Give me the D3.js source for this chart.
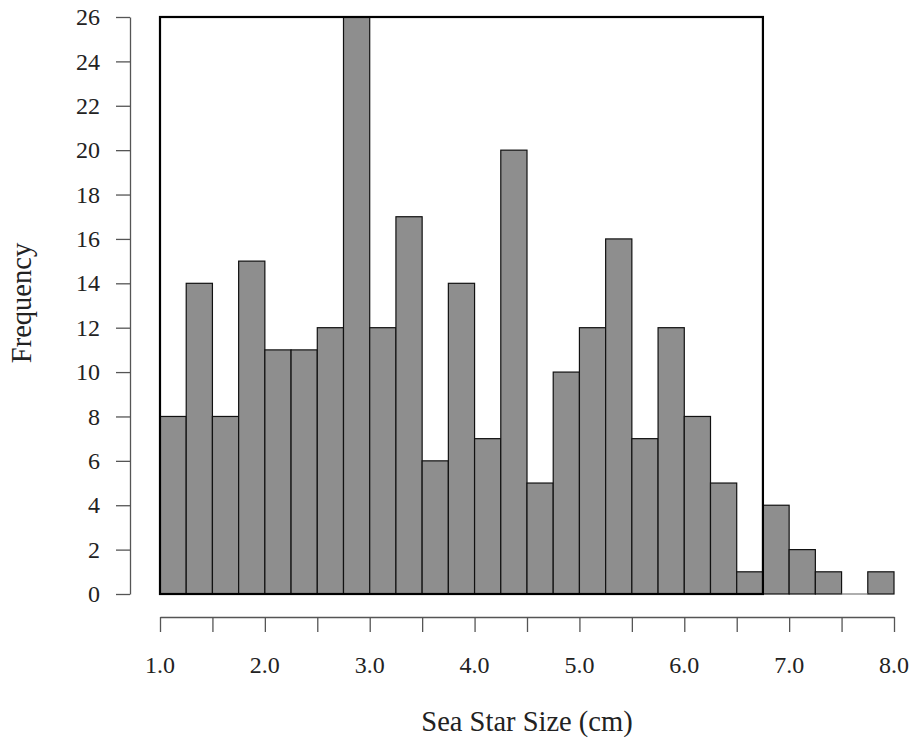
<!DOCTYPE html>
<html>
<head>
<meta charset="utf-8">
<script src="https://cdn.jsdelivr.net/npm/d3@7"></script>
<style>
  html, body { margin: 0; padding: 0; background: #fff; }
  svg { display: block; }
  text { font-family: "Liberation Serif", "Times New Roman", serif; fill: #222; }
</style>
</head>
<body>
<svg id="chart" width="913" height="742"></svg>
<script>
// Histogram of sea star sizes, bins of 0.25 cm
const binStarts = [1.00, 1.25, 1.50, 1.75, 2.00, 2.25, 2.50, 2.75, 3.00, 3.25,
                   3.50, 3.75, 4.00, 4.25, 4.50, 4.75, 5.00, 5.25, 5.50, 5.75,
                   6.00, 6.25, 6.50, 6.75, 7.00, 7.25, 7.50, 7.75];
const counts = [8, 14, 8, 15, 11, 11, 12, 26, 12, 17,
                6, 14, 7, 20, 5, 10, 12, 16, 7, 12,
                8, 5, 1, 4, 2, 1, 0, 1];
const binWidth = 0.25;
const xTickValues = [1.0, 1.5, 2.0, 2.5, 3.0, 3.5, 4.0, 4.5, 5.0, 5.5, 6.0, 6.5, 7.0, 7.5, 8.0];
const xLabelValues = [1.0, 2.0, 3.0, 4.0, 5.0, 6.0, 7.0, 8.0];
const yTickValues = [0, 2, 4, 6, 8, 10, 12, 14, 16, 18, 20, 22, 24, 26];
const frameX = [1.0, 6.75];
const frameY = [0, 26];

const svg = d3.select("#chart");
const x = d3.scaleLinear().domain([1, 8]).range([160, 894]);
const y = d3.scaleLinear().domain([0, 26]).range([594, 17]);

const bins = binStarts.map((s, i) => ({ s, c: counts[i] }));

// bars
svg.append("g").selectAll("rect")
  .data(bins.filter(d => d.c > 0))
  .join("rect")
  .attr("x", d => x(d.s))
  .attr("y", d => y(d.c))
  .attr("width", d => x(d.s + binWidth) - x(d.s))
  .attr("height", d => y(0) - y(d.c))
  .attr("fill", "#8e8e8e")
  .attr("stroke", "#111")
  .attr("stroke-width", 1.2);

// empty bins collapse to a flat line on the baseline
svg.append("g").selectAll("line")
  .data(bins.filter(d => d.c === 0))
  .join("line")
  .attr("x1", d => x(d.s))
  .attr("x2", d => x(d.s + binWidth))
  .attr("y1", y(0))
  .attr("y2", y(0))
  .attr("stroke", "#777")
  .attr("stroke-width", 1.2);

// frame around the plotting region
svg.append("rect")
  .attr("x", x(frameX[0]))
  .attr("y", y(frameY[1]))
  .attr("width", x(frameX[1]) - x(frameX[0]))
  .attr("height", y(frameY[0]) - y(frameY[1]))
  .attr("fill", "none")
  .attr("stroke", "#000")
  .attr("stroke-width", 2.2);

// y axis
const yAxis = svg.append("g")
  .attr("transform", "translate(130,0)")
  .call(d3.axisLeft(y).tickValues(yTickValues).tickSize(14).tickPadding(16).tickSizeOuter(0));
yAxis.select(".domain").attr("stroke", "#555").attr("stroke-width", 1.3);
yAxis.selectAll(".tick line").attr("stroke", "#555").attr("stroke-width", 1.3);
yAxis.selectAll(".tick text").style("font-size", "24px").attr("fill", "#222");

// x axis
const xAxis = svg.append("g")
  .attr("transform", "translate(0,617)")
  .call(d3.axisBottom(x).tickValues(xTickValues).tickSize(15).tickSizeOuter(0).tickFormat(() => ""));
xAxis.select(".domain").attr("stroke", "#555").attr("stroke-width", 1.3);
xAxis.selectAll(".tick line").attr("stroke", "#555").attr("stroke-width", 1.3);

svg.append("g").selectAll("text")
  .data(xLabelValues)
  .join("text")
  .attr("x", d => x(d))
  .attr("y", 673)
  .attr("text-anchor", "middle")
  .style("font-size", "24px")
  .text(d => d3.format(".1f")(d));

// axis titles
svg.append("text")
  .attr("x", (x(1) + x(8)) / 2)
  .attr("y", 731)
  .attr("text-anchor", "middle")
  .style("font-size", "28.5px")
  .text("Sea Star Size (cm)");

svg.append("text")
  .attr("transform", `translate(31,303) rotate(-90)`)
  .attr("text-anchor", "middle")
  .style("font-size", "28.5px")
  .text("Frequency");
</script>
</body>
</html>
